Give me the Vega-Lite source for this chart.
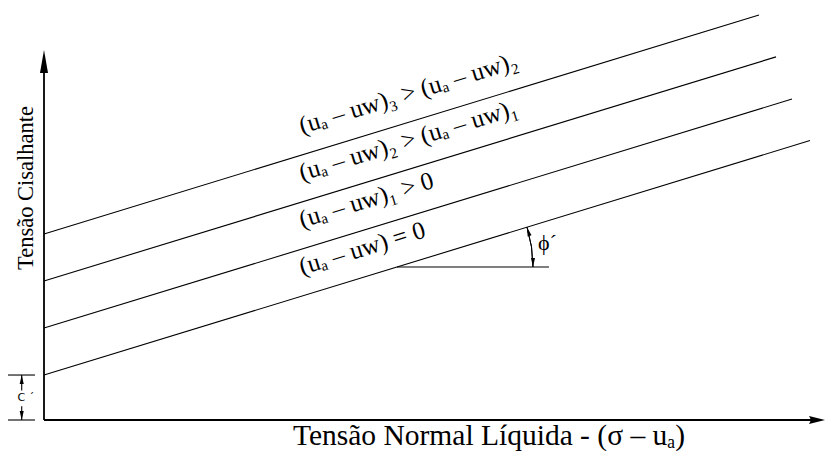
{
  "$schema": "https://vega.github.io/schema/vega-lite/v6.json",
  "width": 782,
  "height": 420,
  "padding": {"left": 44, "top": 0, "right": 0, "bottom": 32},
  "autosize": {"type": "none"},
  "background": "white",
  "config": {"view": {"stroke": null}},
  "datasets": {
    "envoltorias": [
      {"sucção": "0", "x": 0, "y": 10.7, "x2": 97.95, "y2": 66.53},
      {"sucção": "1", "x": 0, "y": 21.9, "x2": 95.65, "y2": 76.42},
      {"sucção": "2", "x": 0, "y": 33.1, "x2": 93.61, "y2": 86.46},
      {"sucção": "3", "x": 0, "y": 44.3, "x2": 91.43, "y2": 96.42}
    ],
    "rotulos": [
      {"texto": "(uₐ – uᴡ) = 0", "x": 33, "y": 34.51},
      {"texto": "(uₐ – uᴡ)₁ > 0", "x": 33, "y": 45.71},
      {"texto": "(uₐ – uᴡ)₂ > (uₐ – uᴡ)₁", "x": 33, "y": 56.91},
      {"texto": "(uₐ – uᴡ)₃ > (uₐ – uᴡ)₂", "x": 33, "y": 68.11}
    ],
    "eixos": [
      {"eixo": "tensão cisalhante", "x": 0, "y": 0, "x2": 0, "y2": 86},
      {"eixo": "tensão normal", "x": 0, "y": 0, "x2": 98.9, "y2": 0}
    ],
    "cotas": [
      {"parte": "base phi", "x": 45.14, "y": 36.43, "x2": 64.58, "y2": 36.43},
      {"parte": "c topo", "x": -4.6, "y": 10.71, "x2": -1.15, "y2": 10.71},
      {"parte": "c base", "x": -4.6, "y": 0, "x2": -1.15, "y2": 0},
      {"parte": "c linha sup", "x": -2.85, "y": 10.71, "x2": -2.85, "y2": 7.0},
      {"parte": "c linha inf", "x": -2.85, "y": 3.3, "x2": -2.85, "y2": 0}
    ],
    "vertice": [{"x": 45.14, "y": 36.43}],
    "seta_y": [{"x": 0, "y": 85.36}],
    "seta_x": [{"x": 98.85, "y": 0}],
    "setas_cima": [{"x": -2.85, "y": 9.64}],
    "setas_baixo": [{"x": -2.85, "y": 1.07}, {"x": 62.53, "y": 37.5}],
    "seta_arco": [{"x": 61.93, "y": 44.88}],
    "titulo_y": [{"texto": "Tensão Cisalhante", "x": -1.41, "y": 55.24}],
    "titulo_x": [{"texto": "Tensão Normal Líquida - (σ – uₐ)", "x": 31.84, "y": -5.95}],
    "phi": [{"texto": "ϕ´", "x": 63.17, "y": 40.48}],
    "coesao": [{"texto": "C ´", "x": -3.39, "y": 5.24}]
  },
  "encoding": {
    "x": {"field": "x", "type": "quantitative", "scale": {"domain": [0, 100], "nice": false, "zero": false}, "axis": null},
    "y": {"field": "y", "type": "quantitative", "scale": {"domain": [0, 100], "nice": false, "zero": false}, "axis": null}
  },
  "layer": [
    {
      "data": {"name": "envoltorias"},
      "mark": {"type": "rule", "color": "black", "strokeWidth": 1.1},
      "encoding": {"x2": {"field": "x2"}, "y2": {"field": "y2"}}
    },
    {
      "data": {"name": "eixos"},
      "mark": {"type": "rule", "color": "black", "strokeWidth": 1.8},
      "encoding": {"x2": {"field": "x2"}, "y2": {"field": "y2"}}
    },
    {
      "data": {"name": "cotas"},
      "mark": {"type": "rule", "color": "black", "strokeWidth": 1.1},
      "encoding": {"x2": {"field": "x2"}, "y2": {"field": "y2"}}
    },
    {
      "data": {"name": "vertice"},
      "mark": {"type": "arc", "filled": false, "stroke": "black", "strokeWidth": 1, "theta": 1.27348, "theta2": 1.5708, "radius": 136, "radius2": 136}
    },
    {
      "data": {"name": "seta_y"},
      "mark": {"type": "point", "filled": true, "color": "black", "opacity": 1, "strokeWidth": 0, "shape": "M0,-1L0.35,1L-0.35,1Z", "size": 529}
    },
    {
      "data": {"name": "seta_x"},
      "mark": {"type": "point", "filled": true, "color": "black", "opacity": 1, "strokeWidth": 0, "shape": "M1,0L-1,-0.5L-0.75,0L-1,0.5Z", "size": 256}
    },
    {
      "data": {"name": "setas_cima"},
      "mark": {"type": "point", "filled": true, "color": "black", "opacity": 1, "strokeWidth": 0, "shape": "M0,-1L0.45,1L-0.45,1Z", "size": 81}
    },
    {
      "data": {"name": "setas_baixo"},
      "mark": {"type": "point", "filled": true, "color": "black", "opacity": 1, "strokeWidth": 0, "shape": "M0,1L0.45,-1L-0.45,-1Z", "size": 81}
    },
    {
      "data": {"name": "seta_arco"},
      "mark": {"type": "point", "filled": true, "color": "black", "opacity": 1, "strokeWidth": 0, "shape": "M0,-1L0.45,1L-0.45,1Z", "size": 81, "angle": -17}
    },
    {
      "data": {"name": "rotulos"},
      "mark": {"type": "text", "align": "left", "baseline": "alphabetic", "angle": -17, "font": "Liberation Serif", "fontSize": 25, "color": "black"},
      "encoding": {"text": {"field": "texto"}}
    },
    {
      "data": {"name": "titulo_y"},
      "mark": {"type": "text", "align": "center", "baseline": "alphabetic", "angle": 270, "font": "Liberation Serif", "fontSize": 22.5, "color": "black"},
      "encoding": {"text": {"field": "texto"}}
    },
    {
      "data": {"name": "titulo_x"},
      "mark": {"type": "text", "align": "left", "baseline": "alphabetic", "font": "Liberation Serif", "fontSize": 29.5, "color": "black"},
      "encoding": {"text": {"field": "texto"}}
    },
    {
      "data": {"name": "phi"},
      "mark": {"type": "text", "align": "left", "baseline": "alphabetic", "font": "Liberation Serif", "fontSize": 22, "color": "black"},
      "encoding": {"text": {"field": "texto"}}
    },
    {
      "data": {"name": "coesao"},
      "mark": {"type": "text", "align": "left", "baseline": "middle", "font": "DejaVu Sans", "fontSize": 11, "color": "black"},
      "encoding": {"text": {"field": "texto"}}
    }
  ]
}
